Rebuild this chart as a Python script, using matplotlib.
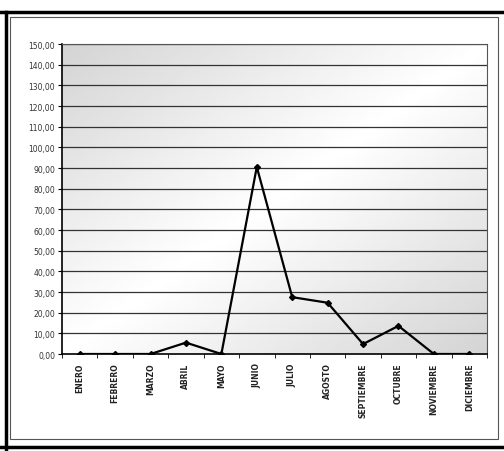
import numpy as np
import matplotlib.pyplot as plt
from matplotlib.patches import Rectangle
from matplotlib.lines import Line2D

# Datos del gráfico
meses = ["ENERO", "FEBRERO", "MARZO", "ABRIL", "MAYO", "JUNIO", "JULIO",
         "AGOSTO", "SEPTIEMBRE", "OCTUBRE", "NOVIEMBRE", "DICIEMBRE"]
valores = [0, 0, 0, 5.5, 0, 90.5, 27.5, 24.8, 4.8, 13.6, 0, 0]
ticks_y = list(range(0, 151, 10))

fig = plt.figure(figsize=(5.04, 4.52), dpi=100)
fig.patch.set_facecolor("white")

# Marco exterior (líneas gruesas) y recuadro interior
fig.add_artist(Line2D([0, 1], [1 - 13 / 452] * 2, color="black", lw=2.5, transform=fig.transFigure))
fig.add_artist(Line2D([6 / 504] * 2, [0, 1 - 13 / 452], color="black", lw=2.5, transform=fig.transFigure))
fig.add_artist(Line2D([0, 1], [4 / 452] * 2, color="black", lw=2.5, transform=fig.transFigure))
fig.add_artist(Rectangle((10 / 504, 12 / 452), 488 / 504, 422 / 452, fill=False,
                         edgecolor="#555555", lw=0.8, transform=fig.transFigure))

ax = fig.add_axes([62 / 504, 1 - 355 / 452, 425 / 504, 310 / 452])

# Fondo degradado (gris en las esquinas, blanco en la diagonal)
gx, gy = np.meshgrid(np.linspace(0, 1, 200), np.linspace(0, 1, 200))
grad = 1 - 0.17 * np.abs(gx - gy)
ax.imshow(grad, extent=[-0.5, 11.5, 0, 150], origin="lower", cmap="gray",
          vmin=0, vmax=1, aspect="auto", zorder=0)

x = np.arange(len(meses))
for t in ticks_y[1:]:
    ax.axhline(t, color="#333333", lw=0.9, zorder=1)
ax.plot(x, valores, color="black", lw=1.6, marker="D", markersize=3,
        markerfacecolor="black", zorder=3)

ax.set_xlim(-0.5, 11.5)
ax.set_ylim(0, 150)
ax.set_yticks(ticks_y)
ax.set_yticklabels([f"{t:.2f}".replace(".", ",") for t in ticks_y], fontsize=5.5, color="#333333")
ax.set_xticks(x)
ax.set_xticklabels(meses, rotation=90, fontsize=5.5, fontweight="bold", color="#222222")
ax.set_xticks(np.arange(-0.5, 12, 1), minor=True)
ax.tick_params(axis="x", which="major", length=0, pad=6)
ax.tick_params(axis="x", which="minor", length=3, direction="out")
ax.tick_params(axis="y", length=3, direction="out", pad=2)

for s in ["left", "bottom"]:
    ax.spines[s].set_color("black")
    ax.spines[s].set_linewidth(1.2)
for s in ["right", "top"]:
    ax.spines[s].set_color("#555555")
    ax.spines[s].set_linewidth(0.8)

fig.savefig("out.png", dpi=100)
